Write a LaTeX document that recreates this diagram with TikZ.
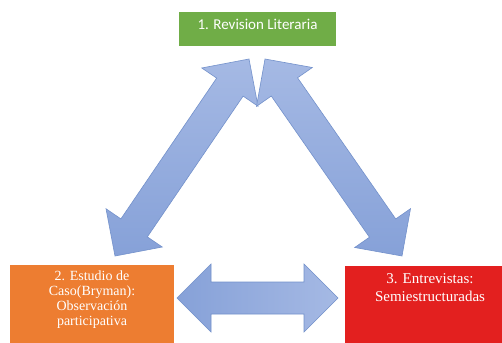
\documentclass[tikz,border=0pt]{standalone}
\usepackage{fontspec}
\setmainfont{Liberation Serif}
\newfontfamily\calib{Carlito}
\newfontfamily\timesf{Liberation Serif}
\usetikzlibrary{calc}
\definecolor{boxgreen}{HTML}{70AD47}
\definecolor{boxorange}{HTML}{ED7D31}
\definecolor{boxred}{HTML}{E3201F}
\definecolor{arrdark}{HTML}{86A1D8}
\definecolor{arrlight}{HTML}{A5B9E4}
\definecolor{arredge}{HTML}{7391CB}
\tikzset{
  box/.style={draw=none,inner sep=0pt,minimum width=#1},
  boxtext/.style={text=white,align=center,inner sep=0pt},
  arrowshape/.style={draw=arredge,line width=0.6pt,line join=miter},
}
\newcommand{\dblarrow}[3]{%
  \path[arrowshape,#3]
    (#1)
    -- ($($(#1)!34pt!(#2)$)!34pt!90:(#2)$)
    -- ($($(#1)!34pt!(#2)$)!16pt!90:(#2)$)
    -- ($($(#2)!34pt!(#1)$)!16pt!-90:(#1)$)
    -- ($($(#2)!34pt!(#1)$)!34pt!-90:(#1)$)
    -- (#2)
    -- ($($(#2)!34pt!(#1)$)!34pt!90:(#1)$)
    -- ($($(#2)!34pt!(#1)$)!16pt!90:(#1)$)
    -- ($($(#1)!34pt!(#2)$)!16pt!-90:(#2)$)
    -- ($($(#1)!34pt!(#2)$)!34pt!-90:(#2)$)
    -- cycle;}
\begin{document}
\begin{tikzpicture}[x=1pt,y=-1pt]
\useasboundingbox (0,0) rectangle (502,342);
\clip (0,0) rectangle (502,342);
\fill[white] (0,0) rectangle (502,342);
% boxes
\node[box=157pt,minimum height=34pt,fill=boxgreen] (lit) at (257.5,29.5) {};
\node[box=164pt,minimum height=80pt,fill=boxorange] (caso) at (92,305) {};
\node[box=170pt,minimum height=79pt,fill=boxred] (entr) at (430,305.5) {};
% texts
\node[boxtext,font=\calib\fontsize{15}{18}\selectfont] (litT) at (257.5,24) {1. Revision Literaria};
\node[boxtext,font=\timesf\fontsize{14}{15}\selectfont] (casoT) at (92,300) {2. Estudio de\\Caso(Bryman):\\Observación\\participativa};
\node[boxtext,font=\timesf\fontsize{15}{18}\selectfont] (entrT) at (430,288) {3. Entrevistas:\\Semiestructuradas};
% arrow end points
\coordinate (l1) at (115,256);
\coordinate (l2) at (249,59);
\coordinate (r1) at (265,59);
\coordinate (r2) at (402,256);
\coordinate (b1) at (177,298);
\coordinate (b2) at (338,298);
% arrows
\dblarrow{l1}{l2}{top color=arrlight,bottom color=arrdark}
\dblarrow{r1}{r2}{top color=arrlight,bottom color=arrdark}
\dblarrow{b1}{b2}{left color=arrdark,right color=arrlight}
\end{tikzpicture}
\end{document}
